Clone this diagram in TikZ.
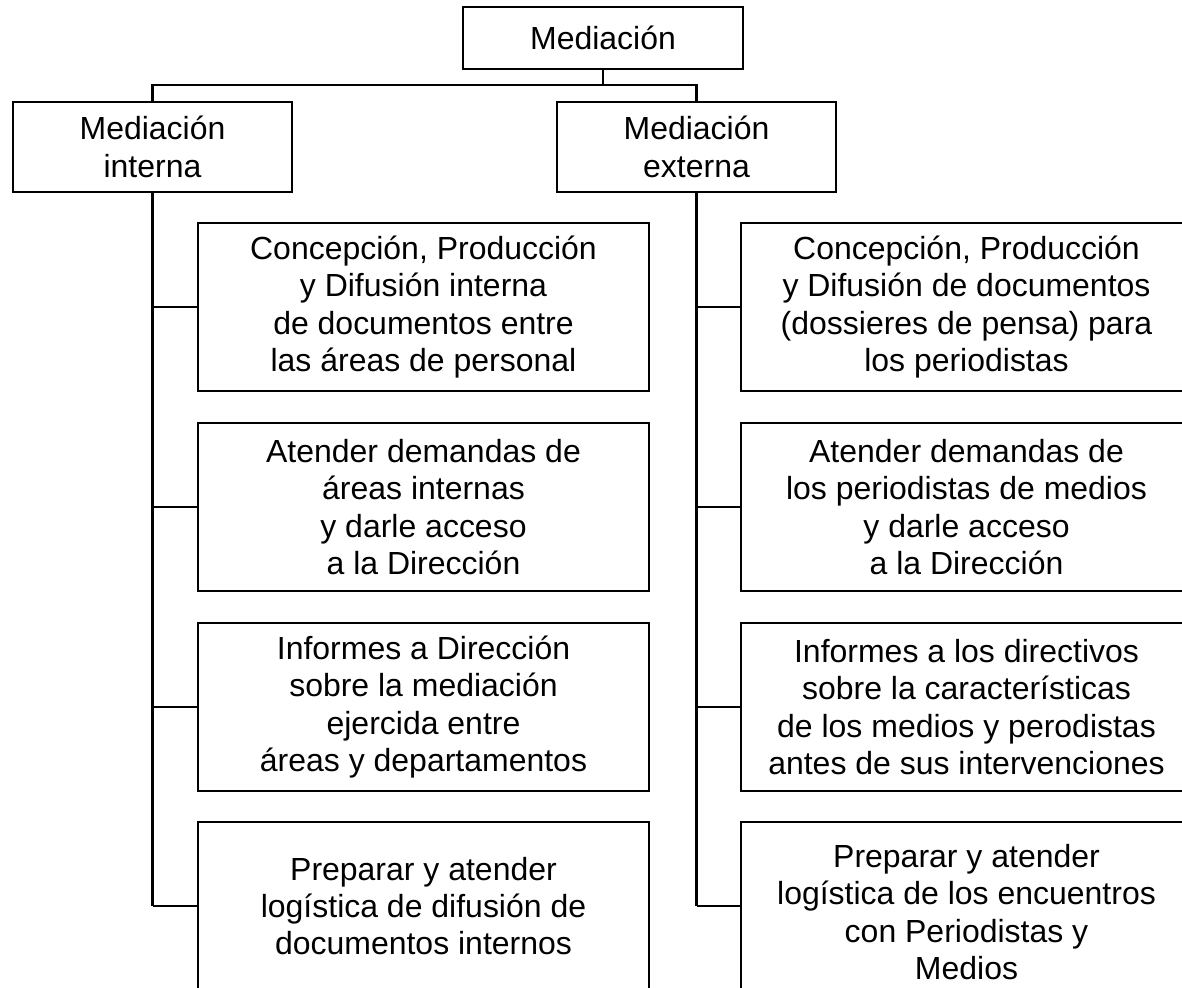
\documentclass[tikz,border=0pt]{standalone}
\usepackage{fontspec}
\setmainfont{Liberation Sans}
\begin{document}
\begin{tikzpicture}[font=\fontsize{18.2}{21.3}\selectfont,
    box/.style={draw, shape=rectangle, line width=0.85pt, align=center, inner sep=0pt, outer sep=0pt},
    trunk/.style={line width=1.15pt},
    stub/.style={line width=0.85pt}]
    \useasboundingbox (0,0) rectangle (23.64,-19.74);
    \clip (0,0) rectangle (23.64,-19.74);
    \node[fill=white, minimum width=100cm, minimum height=100cm] (bg) at (0, 0) {};
    \def\headwidth{5.58cm}
    \def\headheight{1.8cm}
    \def\childwidth{9.02cm}
    \def\childheight{3.36cm}
    \def\busdrop{0.32}
    % root and the two branches
    \node[box, minimum width=5.6cm, minimum height=1.24cm] (med) at (12.06, -0.76) {Mediación};
    \node[box, minimum width=\headwidth, minimum height=\headheight] (medint) at (3.05, -2.94) {Mediación\\interna};
    \node[box, minimum width=\headwidth, minimum height=\headheight] (medext) at (13.93, -2.94) {Mediación\\externa};
    \draw[trunk] (med.south) -- ++(0, -\busdrop) -| (medint.north);
    \draw[trunk] (med.south) -- ++(0, -\busdrop) -| (medext.north);
    % internal tasks
    \node[box, minimum width=\childwidth, minimum height=\childheight] (int1) at (8.47, -6.14) {Concepción, Producción\\y Difusión interna\\de documentos entre\\las áreas de personal};
    \node[box, minimum width=\childwidth, minimum height=\childheight] (int2) at (8.47, -10.14) {Atender demandas de\\áreas internas\\y darle acceso\\a la Dirección};
    \node[box, minimum width=\childwidth, minimum height=\childheight] (int3) at (8.47, -14.14) {Informes a Dirección\\sobre la mediación\\ejercida entre\\áreas y departamentos};
    \node[box, minimum width=\childwidth, minimum height=\childheight] (int4) at (8.47, -18.12) {Preparar y atender\\logística de difusión de\\documentos internos};
    % external tasks
    \node[box, minimum width=\childwidth, minimum height=\childheight] (ext1) at (19.33, -6.14) {Concepción, Producción\\y Difusión de documentos\\(dossieres de pensa) para\\los periodistas};
    \node[box, minimum width=\childwidth, minimum height=\childheight] (ext2) at (19.33, -10.14) {Atender demandas de\\los periodistas de medios\\y darle acceso\\a la Dirección};
    \node[box, minimum width=\childwidth, minimum height=\childheight] (ext3) at (19.33, -14.14) {Informes a los directivos\\sobre la características\\de los medios y perodistas\\antes de sus intervenciones};
    \node[box, minimum width=\childwidth, minimum height=3.6cm] (ext4) at (19.33, -18.24) {Preparar y atender\\logística de los encuentros\\con Periodistas y\\Medios};
    % trunks
    \draw[trunk] (medint.south) -- (medint.south |- int4.west);
    \draw[trunk] (medext.south) -- (medext.south |- int4.west);
    \draw[stub] (medint.south |- int1.west) -- (int1.west);
    \draw[stub] (medint.south |- int2.west) -- (int2.west);
    \draw[stub] (medint.south |- int3.west) -- (int3.west);
    \draw[stub] (medint.south |- int4.west) -- (int4.west);
    \draw[stub] (medext.south |- ext1.west) -- (ext1.west);
    \draw[stub] (medext.south |- ext2.west) -- (ext2.west);
    \draw[stub] (medext.south |- ext3.west) -- (ext3.west);
    \draw[stub] (medext.south |- int4.west) -- (ext4.west |- int4.west);
\end{tikzpicture}
\end{document}
